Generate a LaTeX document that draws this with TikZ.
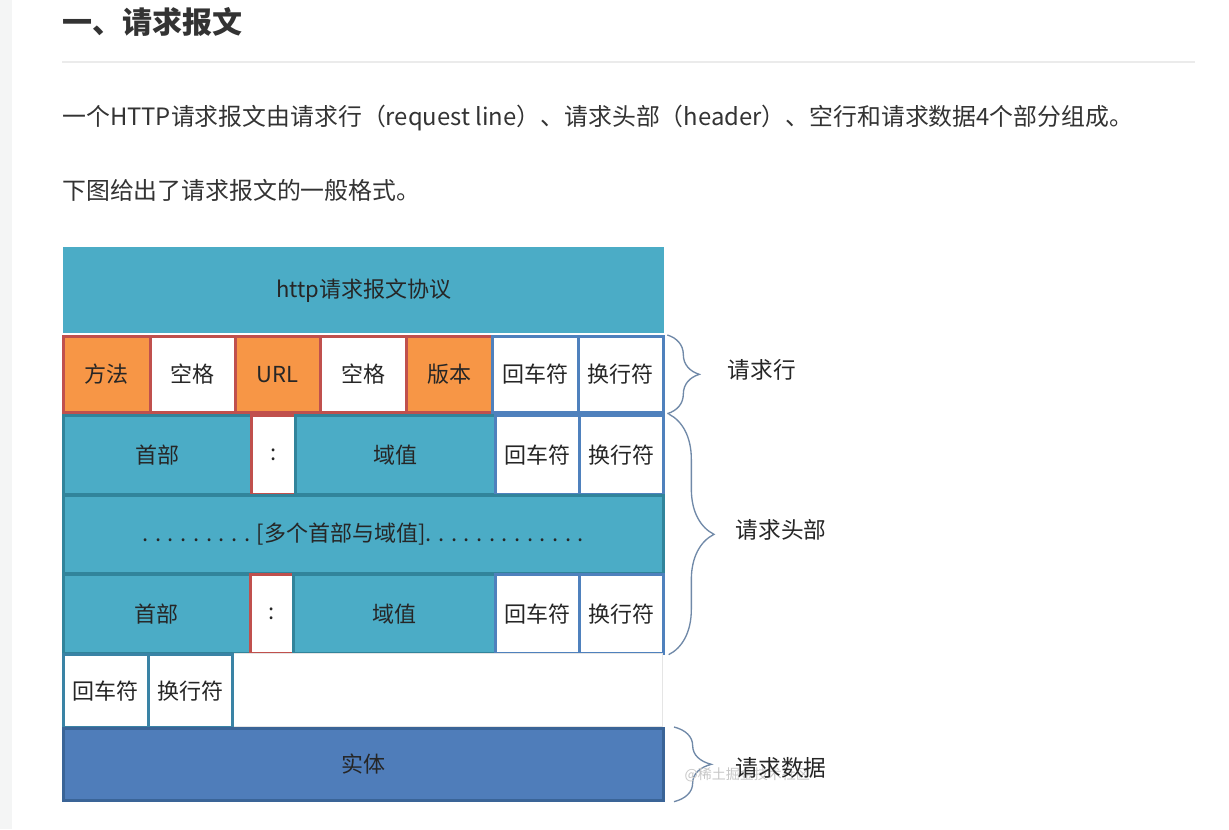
\documentclass[tikz,border=0pt]{standalone}
\usepackage{fontspec}
\setmainfont{Noto Sans CJK SC}
\usetikzlibrary{decorations.pathreplacing}

\definecolor{tealfill}{HTML}{4BACC6}
\definecolor{tealedge}{HTML}{31849B}
\definecolor{orangefill}{HTML}{F79646}
\definecolor{rededge}{HTML}{C0504D}
\definecolor{blueedge}{HTML}{4F81BD}
\definecolor{bluefill}{HTML}{4F7DBA}
\definecolor{bluedark}{HTML}{3A6497}
\definecolor{bracecol}{HTML}{7089A8}
\definecolor{inktext}{HTML}{333333}
\definecolor{pagegray}{HTML}{F4F5F5}

\tikzset{sz/.style 2 args={minimum width=#1*0.75pt, minimum height=#2*0.75pt}}

\begin{document}
\begin{tikzpicture}[
  x=0.75pt, y=-0.75pt,
  cell/.style={inner sep=0pt, line width=2pt, anchor=north west,
               font=\fontsize{16.5}{18}\selectfont, text=black!85},
  titlecell/.style={cell, fill=tealfill, draw=none},
  methodcell/.style={cell, fill=orangefill, draw=rededge},
  gapcell/.style={cell, fill=white, draw=rededge},
  crlfcell/.style={cell, fill=white, draw=blueedge},
  fieldcell/.style={cell, fill=tealfill, draw=tealedge},
  endcell/.style={cell, fill=white, draw=tealedge!70!blueedge},
  bodycell/.style={cell, fill=bluefill, draw=bluedark},
  brc/.style={decorate, draw=bracecol, line width=1pt},
  side/.style={anchor=west, font=\fontsize{17}{20}\selectfont, text=black!85},
  para/.style={anchor=west, inner sep=0pt, text=inktext,
               font=\fontsize{17.9}{20}\selectfont}
]
\useasboundingbox (0,0) rectangle (1229,829);
\fill[white] (0,0) rectangle (1229,829);
\fill[pagegray] (0,0) rectangle (12,829);

% page text
\node[para, font=\fontsize{22.5}{26}\selectfont\bfseries] (title) at (62,22) {一、请求报文};
\draw[black!8, line width=0.8pt] (62,62) -- (1195,62);
\node[para] (intro) at (62,118)
  {一个HTTP请求报文由请求行（request line）、请求头部（header）、空行和请求数据4个部分组成。};
\node[para] (hint) at (62,190) {下图给出了请求报文的一般格式。};

% top bar
\node[titlecell, sz={601}{86}] (proto) at (62,246) {http请求报文协议};

% request line
\node[methodcell, sz={87}{76}] (method) at (62,335) {方法};
\node[gapcell, sz={85}{76}] (sp1) at (149,335) {空格};
\node[methodcell, sz={85}{76}] (url) at (234,335) {URL};
\node[gapcell, sz={86}{76}] (sp2) at (319,335) {空格};
\node[methodcell, sz={86}{76}] (version) at (405,335) {版本};
\node[crlfcell, sz={86}{76}] (cr1) at (491,335) {回车符};
\node[crlfcell, sz={85}{76}] (lf1) at (577,335) {换行符};

% header lines
\node[fieldcell, sz={188}{79}] (name1) at (62,414) {首部};
\node[gapcell, sz={44}{79}] (colon1) at (250,414) {:};
\node[fieldcell, sz={200}{79}] (value1) at (294,414) {域值};
\node[crlfcell, sz={84}{79}] (cr2) at (494,414) {回车符};
\node[crlfcell, sz={84}{79}] (lf2) at (578,414) {换行符};

\node[fieldcell, sz={600}{78}] (more) at (62,494)
  {. . . . . . . . . [多个首部与域值]. . . . . . . . . . . . .};

\node[fieldcell, sz={187}{79}] (name2) at (62,573) {首部};
\node[gapcell, sz={43}{79}] (colon2) at (249,573) {:};
\node[fieldcell, sz={202}{79}] (value2) at (292,573) {域值};
\node[crlfcell, sz={84}{79}] (cr3) at (494,573) {回车符};
\node[crlfcell, sz={84}{79}] (lf3) at (578,573) {换行符};

% empty line
\node[endcell, line width=0.6pt, draw=black!10, sz={431}{73}] (blank) at (231,653) {};
\node[endcell, sz={85}{73}] (cr4) at (62,653) {回车符};
\node[endcell, sz={84}{73}] (lf4) at (147,653) {换行符};

% body
\node[bodycell, sz={600}{72}] (body) at (62,727) {实体};

% braces
\draw[brc, decoration={brace, amplitude=24pt}]
  ([xshift=2pt]lf1.north east) -- ([xshift=2pt]lf1.south east);
\draw[brc, decoration={brace, amplitude=34pt}]
  ([xshift=3pt]lf2.north east) -- ([xshift=3pt]lf3.south east);
\draw[brc, decoration={brace, amplitude=28pt}]
  ([xshift=7pt]body.north east) -- ([xshift=7pt]body.south east);

\node[anchor=west, text=black!22, font=\fontsize{10.5}{12}\selectfont]
  (mark) at (680,775) {@稀土掘金技术社区};
\node[side] (reqline) at (723,370) {请求行};
\node[side] (reqhead) at (731,530) {请求头部};
\node[side] (reqdata) at (731,768) {请求数据};
\end{tikzpicture}
\end{document}
